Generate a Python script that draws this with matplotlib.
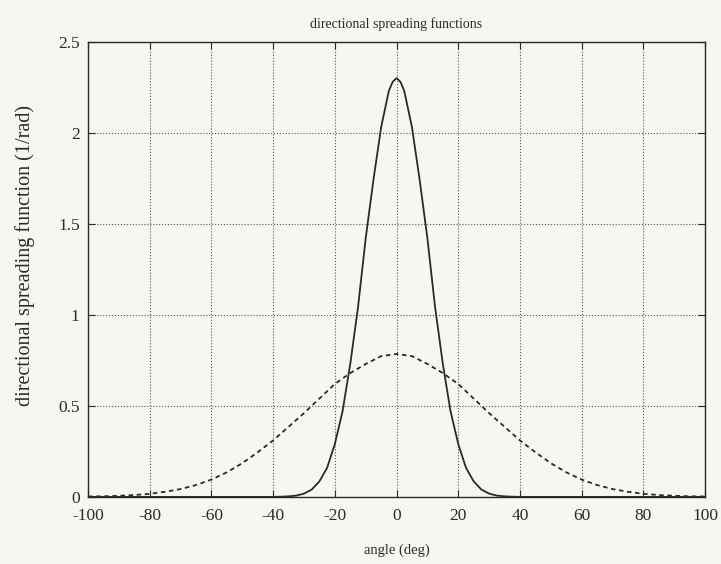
import numpy as np
import matplotlib
matplotlib.use('Agg')
from matplotlib import pyplot as plt
from matplotlib.ticker import FuncFormatter

# narrow spreading function (solid)
angle_narrow = [-100, -40, -37.5, -35, -32.5, -30, -27.5, -25, -22.5, -20, -17.5, -15,
                -12.5, -10, -7.5, -5, -2.5, -1.25, 0, 1.25, 2.5, 5, 7.5, 10, 12.5, 15,
                17.5, 20, 22.5, 25, 27.5, 30, 32.5, 35, 37.5, 40, 100]
d_narrow = [0.0, 0.0, 0.001, 0.003, 0.007, 0.018, 0.04, 0.085, 0.16, 0.29, 0.47, 0.73,
            1.04, 1.42, 1.74, 2.03, 2.23, 2.28, 2.30, 2.28, 2.23, 2.03, 1.74, 1.42, 1.04,
            0.73, 0.47, 0.29, 0.16, 0.085, 0.04, 0.018, 0.007, 0.003, 0.001, 0.0, 0.0]

# broad spreading function (dashed)
angle_broad = [-100, -95, -90, -85, -80, -75, -70, -65, -60, -55, -50, -45, -40, -35,
               -30, -25, -20, -15, -10, -5, 0, 5, 10, 15, 20, 25, 30, 35, 40, 45, 50,
               55, 60, 65, 70, 75, 80, 85, 90, 95, 100]
d_broad = [0.002, 0.003, 0.006, 0.010, 0.017, 0.028, 0.043, 0.065, 0.095, 0.135, 0.185,
           0.245, 0.31, 0.385, 0.46, 0.54, 0.62, 0.68, 0.73, 0.773, 0.785, 0.773, 0.73,
           0.68, 0.62, 0.54, 0.46, 0.385, 0.31, 0.245, 0.185, 0.135, 0.095, 0.065, 0.043,
           0.028, 0.017, 0.010, 0.006, 0.003, 0.002]

xticks = np.arange(-100, 101, 20)
yticks = [0, 0.5, 1, 1.5, 2, 2.5]

plt.rcParams['font.family'] = ['Liberation Serif', 'DejaVu Serif']
plt.rcParams['axes.unicode_minus'] = False
ink = '#2a2a2a'

fig = plt.figure(figsize=(7.21, 5.64), dpi=100, facecolor='#f7f6f2')
ax = fig.add_axes([0.122, 0.119, 0.856, 0.807])
ax.set_facecolor('#f7f6f2')

ax.plot(angle_narrow, d_narrow, '-', color=ink, linewidth=1.3)
ax.plot(angle_broad, d_broad, '--', color=ink, linewidth=1.3, dashes=(2.5, 2))

ax.set_xlim(-100, 100)
ax.set_ylim(0, 2.5)
ax.set_xticks(xticks)
ax.set_yticks(yticks)
ax.yaxis.set_major_formatter(FuncFormatter(lambda v, p: '%g' % v))
ax.tick_params(direction='in', top=True, right=True, length=5, width=0.8,
               color=ink, labelcolor=ink, labelsize=12.5)
ax.tick_params(axis='x', pad=8)
ax.tick_params(axis='y', pad=6)
for s in ax.spines.values():
    s.set_color(ink)
    s.set_linewidth(1.0)
ax.grid(True, linestyle=':', color='#555555', linewidth=0.8)

ax.set_title('directional spreading functions', fontsize=10, color=ink, pad=10)
ax.set_xlabel('angle (deg)', fontsize=10.5, color=ink, labelpad=14)
ax.set_ylabel('directional spreading function (1/rad)', fontsize=14.5, color=ink)
ax.yaxis.set_label_coords(-0.086, 0.53)

plt.savefig('out.png', dpi=100, facecolor=fig.get_facecolor())
